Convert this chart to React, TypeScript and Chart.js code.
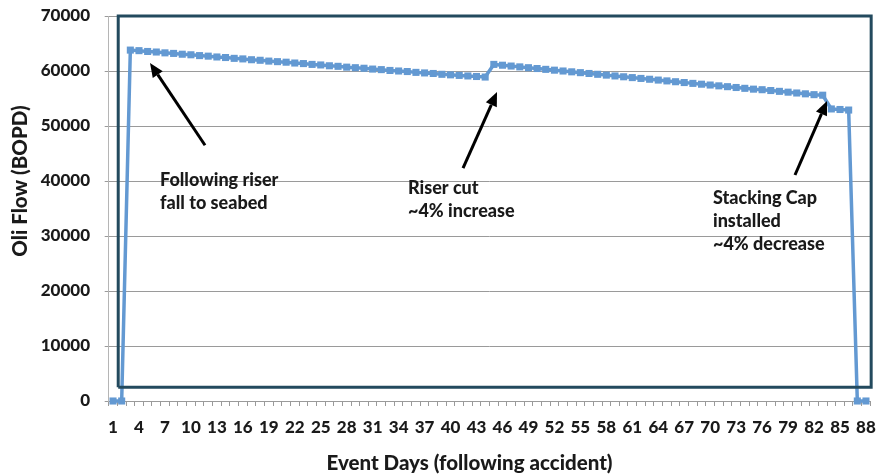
import React, { useEffect, useRef } from 'react';
import { Chart, registerables } from 'chart.js';

Chart.register(...registerables);

// ---------- DATA ----------
const dayLabels: string[] = Array.from({ length: 88 }, (_, i) => String(i + 1));

const oilFlow: number[] = [
  0, 0, 63800, 63700, 63550, 63450, 63300, 63200, 63050, 62950,
  62800, 62700, 62550, 62450, 62300, 62200, 62050, 61950, 61800, 61700,
  61600, 61450, 61350, 61200, 61100, 60950, 60850, 60700, 60600, 60500,
  60350, 60250, 60100, 60000, 59900, 59750, 59650, 59550, 59400, 59300,
  59200, 59100, 59000, 58900, 61200, 61050, 60900, 60750, 60600, 60450,
  60300, 60150, 60000, 59850, 59700, 59550, 59400, 59250, 59100, 58950,
  58800, 58650, 58500, 58350, 58200, 58050, 57900, 57750, 57600, 57450,
  57300, 57150, 57000, 56850, 56700, 56600, 56450, 56300, 56150, 56000,
  55850, 55700, 55600, 53100, 53000, 52900, 0, 0,
];

const yTickValues: number[] = [0, 10000, 20000, 30000, 40000, 50000, 60000, 70000];

// outline box drawn across the plot
const boxDays: number[] = [1.6, 1.6, 88.6, 88.6, 1.6];
const boxFlow: number[] = [2500, 70000, 70000, 2500, 2500];

const xTitle = 'Event Days (following accident)';
const yTitle = 'Oli Flow (BOPD)';

type Note = {
  lines: string[];
  textDay: number;
  textFlow: number;
  tailDay: number;
  tailFlow: number;
  headDay: number;
  headFlow: number;
};

const notes: Note[] = [
  { lines: ['Following riser', 'fall to seabed'], textDay: 6.43, textFlow: 40180, tailDay: 11.63, tailFlow: 46500, headDay: 5.27, headFlow: 61450 },
  { lines: ['Riser cut', '~4% increase'], textDay: 35.08, textFlow: 38730, tailDay: 41.44, tailFlow: 42360, headDay: 45.37, headFlow: 56180 },
  { lines: ['Stacking Cap', 'installed', '~4% decrease'], textDay: 70.32, textFlow: 36900, tailDay: 79.8, tailFlow: 41090, headDay: 83.5, headFlow: 54550 },
];

const FONT = 'Lato, "DejaVu Sans", sans-serif';
const TEXT = '#1a1a1a';
const WEIGHT = '900';

const annotationPlugin = {
  id: 'notes',
  afterDatasetsDraw(chart: any) {
    const { ctx, chartArea } = chart;
    const xs = chart.scales.x2;
    const ys = chart.scales.y;
    ctx.save();
    ctx.fillStyle = '#000';
    ctx.strokeStyle = '#000';
    for (const n of notes) {
      // arrow
      const tx = xs.getPixelForValue(n.tailDay);
      const ty = ys.getPixelForValue(n.tailFlow);
      const hx = xs.getPixelForValue(n.headDay);
      const hy = ys.getPixelForValue(n.headFlow);
      const ang = Math.atan2(hy - ty, hx - tx);
      const headLen = 14;
      const headHalf = 6;
      const bx = hx - headLen * Math.cos(ang);
      const by = hy - headLen * Math.sin(ang);
      ctx.lineWidth = 3;
      ctx.beginPath();
      ctx.moveTo(tx, ty);
      ctx.lineTo(bx, by);
      ctx.stroke();
      ctx.beginPath();
      ctx.moveTo(hx, hy);
      ctx.lineTo(bx + headHalf * Math.sin(ang), by - headHalf * Math.cos(ang));
      ctx.lineTo(bx - headHalf * Math.sin(ang), by + headHalf * Math.cos(ang));
      ctx.closePath();
      ctx.fill();
      // text
      const x0 = xs.getPixelForValue(n.textDay);
      const y0 = ys.getPixelForValue(n.textFlow);
      ctx.fillStyle = TEXT;
      ctx.font = `${WEIGHT} 18px ${FONT}`;
      ctx.textAlign = 'left';
      ctx.textBaseline = 'middle';
      n.lines.forEach((line, i) => ctx.fillText(line, x0, y0 + i * 23));
      ctx.fillStyle = '#000';
    }
    // axis titles
    ctx.fillStyle = TEXT;
    ctx.font = `${WEIGHT} 20.5px ${FONT}`;
    ctx.textAlign = 'center';
    ctx.textBaseline = 'middle';
    ctx.fillText(xTitle, (chartArea.left + chartArea.right) / 2 - 20, 463);
    ctx.save();
    ctx.translate(20, 181);
    ctx.rotate(-Math.PI / 2);
    ctx.fillText(yTitle, 0, 0);
    ctx.restore();
    ctx.restore();
  },
};

export default function App() {
  const ref = useRef<HTMLCanvasElement | null>(null);

  useEffect(() => {
    if (!ref.current) return;
    const chart = new Chart(ref.current, {
      type: 'line',
      data: {
        labels: dayLabels,
        datasets: [
          {
            label: 'Oil Flow',
            data: oilFlow,
            borderColor: '#6399d2',
            backgroundColor: '#6399d2',
            borderWidth: 3.5,
            pointStyle: 'rect',
            pointRadius: 5,
            pointBorderWidth: 0,
            pointBackgroundColor: '#6399d2',
            tension: 0,
            xAxisID: 'x',
            yAxisID: 'y',
            clip: false,
            order: 2,
          },
          {
            label: 'Box',
            data: boxDays.map((d, i) => ({ x: d, y: boxFlow[i] })),
            borderColor: '#234a5e',
            borderWidth: 3,
            pointRadius: 0,
            tension: 0,
            xAxisID: 'x2',
            yAxisID: 'y',
            clip: false,
            order: 1,
          } as any,
        ],
      },
      options: {
        animation: false,
        responsive: true,
        maintainAspectRatio: false,
        layout: { padding: { left: 8, right: 11.7, top: 16, bottom: 0 } },
        plugins: {
          legend: { display: false },
          tooltip: { enabled: false },
        },
        scales: {
          x: {
            type: 'category',
            offset: true,
            grid: {
              display: true,
              drawOnChartArea: false,
              drawTicks: true,
              tickLength: 5,
              offset: true,
              color: '#9a9a9a',
            },
            border: { display: true, color: '#9a9a9a' },
            ticks: {
              autoSkip: false,
              maxRotation: 0,
              minRotation: 0,
              padding: 11,
              color: TEXT,
              font: { family: FONT, weight: WEIGHT, size: 17 },
              callback: (_v: any, idx: number) => (idx % 3 === 0 ? dayLabels[idx] : ''),
            },
            afterFit: (s: any) => {
              s.height = 75;
              s.paddingLeft = 0;
              s.paddingRight = 0;
              s.paddingTop = 0;
              s.paddingBottom = 0;
            },
          },
          x2: {
            type: 'linear',
            display: false,
            min: 0.5,
            max: 88.5,
          },
          y: {
            min: 0,
            max: 70000,
            afterBuildTicks: (s: any) => { s.ticks = yTickValues.map((v) => ({ value: v })); },
            grid: { color: '#9a9a9a', tickLength: 4, drawTicks: true },
            border: { display: true, color: '#b5b5b5' },
            ticks: {
              padding: 14.7,
              color: TEXT,
              font: { family: FONT, weight: WEIGHT, size: 17 },
              callback: (v: any) => String(v),
            },
            afterFit: (s: any) => {
              s.width = 100.7;
              s.paddingTop = 0;
              s.paddingBottom = 0;
              s.paddingLeft = 0;
              s.paddingRight = 0;
            },
          },
        },
      },
      plugins: [annotationPlugin],
    });
    return () => chart.destroy();
  }, []);

  return (
    <div style={{ position: 'fixed', left: 0, top: 0, width: 882, height: 476, background: '#fff' }}>
      <canvas ref={ref} style={{ width: '100%', height: '100%' }} />
    </div>
  );
}
